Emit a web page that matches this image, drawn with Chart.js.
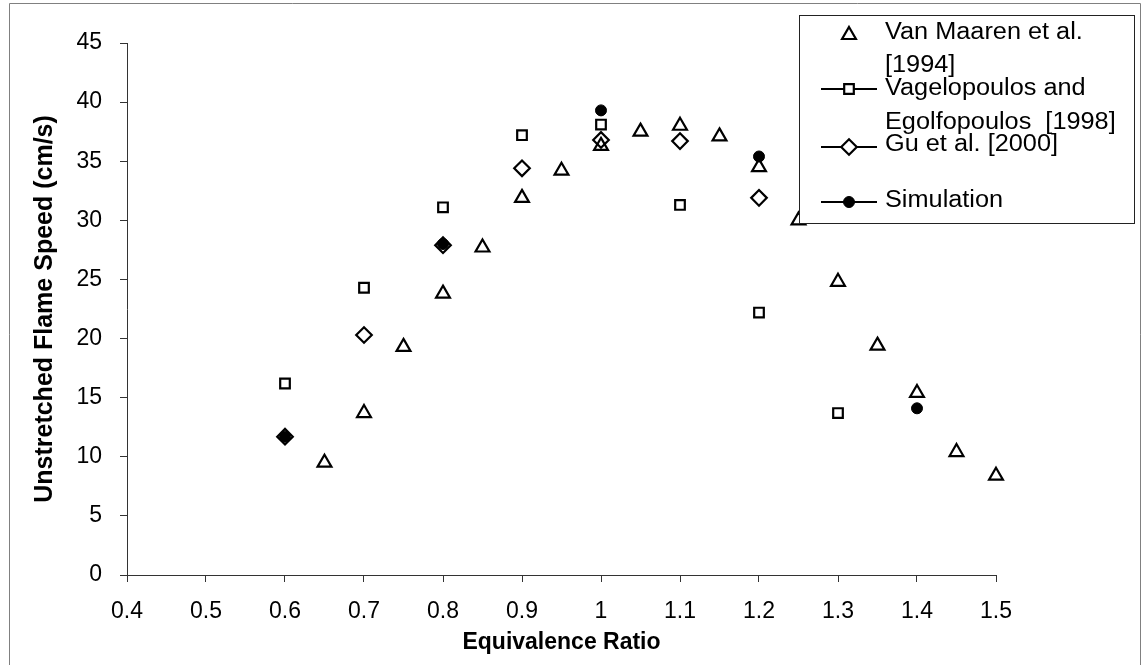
<!DOCTYPE html>
<html>
<head>
<meta charset="utf-8">
<script src="https://cdn.jsdelivr.net/npm/chart.js@4/dist/chart.umd.min.js"></script>
<style>
    html, body { margin: 0; padding: 0; background: #fff; }
    #wrap { width: 1143px; height: 665px; position: relative; }
</style>
</head>
<body>
<div id="wrap"><canvas id="flameChart"></canvas></div>
<script>
    "use strict";

    // Giá trị
    var vanMaarenPhi = [0.65, 0.7, 0.75, 0.8, 0.85, 0.9, 0.95, 1.0, 1.05, 1.1, 1.15, 1.2, 1.25, 1.3, 1.35, 1.4, 1.45, 1.5];
    var vanMaarenSpeed = [9.5, 13.7, 19.3, 23.8, 27.7, 31.9, 34.2, 36.3, 37.5, 38.0, 37.1, 34.5, 30.0, 24.8, 19.4, 15.4, 10.4, 8.4];

    var vagelopoulosPhi = [0.6, 0.7, 0.8, 0.9, 1.0, 1.1, 1.2, 1.3];
    var vagelopoulosSpeed = [16.2, 24.3, 31.1, 37.2, 38.1, 31.3, 22.2, 13.7];

    var guPhi = [0.6, 0.7, 0.8, 0.9, 1.0, 1.1, 1.2];
    var guSpeed = [11.7, 20.3, 27.9, 34.4, 36.8, 36.7, 31.9];

    var simulationPhi = [0.6, 0.8, 1.0, 1.2, 1.4];
    var simulationSpeed = [11.7, 28.0, 39.3, 35.4, 14.1];

    var xTicks = [0.4, 0.5, 0.6, 0.7, 0.8, 0.9, 1.0, 1.1, 1.2, 1.3, 1.4, 1.5];
    var yTicks = [0, 5, 10, 15, 20, 25, 30, 35, 40, 45];

    var legendLabels = [
        ['Van Maaren et al.', '[1994]'],
        ['Vagelopoulos and', 'Egolfopoulos  [1998]'],
        ['Gu et al. [2000]'],
        ['Simulation']
    ];

    var FONT = '"Liberation Sans", Arial, sans-serif';

    function toPoints(xs, ys) {
        return xs.map(function (x, i) { return { x: x, y: ys[i] }; });
    }

    // Khung viền ngoài + nền trắng
    var framePlugin = {
        id: 'frame',
        beforeDraw: function (chart) {
            var ctx = chart.ctx;
            ctx.save();
            ctx.fillStyle = '#fff';
            ctx.fillRect(0, 0, chart.width, chart.height);
            ctx.strokeStyle = '#808080';
            ctx.lineWidth = 1;
            ctx.beginPath();
            ctx.moveTo(9.5, chart.height);
            ctx.lineTo(9.5, 3.5);
            ctx.lineTo(1140.5, 3.5);
            ctx.lineTo(1140.5, chart.height);
            ctx.stroke();
            ctx.restore();
        }
    };

    // Chú giải tự vẽ (chữ xuống dòng như bản gốc)
    var boxLegendPlugin = {
        id: 'boxLegend',
        afterDraw: function (chart) {
            var ctx = chart.ctx;
            var markerY = [35, 89, 147, 202];
            var baselines = [[39, 72], [95, 129], [151], [207]];
            var withLine = [false, true, true, true];
            ctx.save();
            ctx.fillStyle = '#fff';
            ctx.fillRect(799, 15, 335, 208);
            ctx.strokeStyle = '#222';
            ctx.lineWidth = 1;
            ctx.strokeRect(799.5, 15.5, 335, 208);

            chart.data.datasets.forEach(function (ds, i) {
                var y = markerY[i];
                if (withLine[i]) {
                    ctx.strokeStyle = '#000';
                    ctx.lineWidth = 2;
                    ctx.beginPath();
                    ctx.moveTo(821, y);
                    ctx.lineTo(877, y);
                    ctx.stroke();
                }
                if (Chart.helpers && Chart.helpers.drawPoint) {
                    ctx.fillStyle = ds.pointStyle === 'circle' ? '#000' : '#fff';
                    ctx.strokeStyle = '#000';
                    ctx.lineWidth = ds.pointBorderWidth;
                    Chart.helpers.drawPoint(ctx, {
                        pointStyle: ds.pointStyle,
                        radius: ds.pointRadius,
                        rotation: 0,
                        borderWidth: ds.pointBorderWidth
                    }, 849, y);
                }
                ctx.fillStyle = '#000';
                ctx.font = '23px ' + FONT;
                ctx.textAlign = 'left';
                ctx.textBaseline = 'alphabetic';
                legendLabels[i].forEach(function (line, j) {
                    ctx.save();
                    ctx.translate(885, baselines[i][j]);
                    ctx.scale(1.1, 1);
                    ctx.fillText(line, 0, 0);
                    ctx.restore();
                });
            });
            ctx.restore();
        }
    };

    function makeDataset(label, xs, ys, style, radius, filled, order) {
        return {
            label: label,
            data: toPoints(xs, ys),
            pointStyle: style,
            pointRadius: radius,
            pointHoverRadius: radius,
            pointBorderWidth: filled ? 1 : 2.2,
            pointBorderColor: '#000',
            pointBackgroundColor: filled ? '#000' : 'rgba(0,0,0,0)',
            showLine: false,
            clip: false,
            order: order
        };
    }

    var ctx = document.getElementById('flameChart').getContext('2d');
    new Chart(ctx, {
        type: 'scatter',
        data: {
            datasets: [
                makeDataset('Van Maaren et al. [1994]', vanMaarenPhi, vanMaarenSpeed, 'triangle', 8, false, 4),
                makeDataset('Vagelopoulos and Egolfopoulos [1998]', vagelopoulosPhi, vagelopoulosSpeed, 'rect', 6.8, false, 3),
                makeDataset('Gu et al. [2000]', guPhi, guSpeed, 'rectRot', 7.8, false, 2),
                makeDataset('Simulation', simulationPhi, simulationSpeed, 'circle', 5.5, true, 1)
            ]
        },
        options: {
            responsive: true,
            maintainAspectRatio: false,
            animation: false,
            events: [],
            layout: {
                padding: { left: 8, top: 43, right: 147, bottom: 0 }
            },
            plugins: {
                legend: { display: false },
                tooltip: { enabled: false }
            },
            scales: {
                x: {
                    type: 'linear',
                    min: 0.4,
                    max: 1.5,
                    afterBuildTicks: function (scale) {
                        scale.ticks = xTicks.map(function (v) { return { value: v }; });
                    },
                    afterFit: function (scale) { scale.height = 90; },
                    ticks: {
                        color: '#000',
                        font: { family: FONT, size: 23 },
                        padding: 16,
                        maxRotation: 0,
                        callback: function (v) { return String(Math.round(v * 10) / 10); }
                    },
                    grid: { display: true, drawOnChartArea: false, drawTicks: true, tickLength: 7, color: '#333' },
                    border: { display: true, color: '#333', width: 1 },
                    title: {
                        display: true,
                        text: 'Equivalence Ratio',
                        color: '#000',
                        font: { family: FONT, size: 23, weight: 'bold' },
                        padding: { top: 0, bottom: 9 }
                    }
                },
                y: {
                    type: 'linear',
                    min: 0,
                    max: 45,
                    afterBuildTicks: function (scale) {
                        scale.ticks = yTicks.map(function (v) { return { value: v }; });
                    },
                    afterFit: function (scale) { scale.width = 119; },
                    ticks: {
                        color: '#000',
                        font: { family: FONT, size: 23 },
                        padding: 18
                    },
                    grid: { display: true, drawOnChartArea: false, drawTicks: true, tickLength: 7, color: '#333' },
                    border: { display: true, color: '#333', width: 1 },
                    title: {
                        display: true,
                        text: 'Unstretched Flame Speed (cm/s)',
                        color: '#000',
                        font: { family: FONT, size: 25, weight: 'bold' },
                        padding: { top: 22, bottom: 0 }
                    }
                }
            }
        },
        plugins: [framePlugin, boxLegendPlugin]
    });
</script>
</body>
</html>
